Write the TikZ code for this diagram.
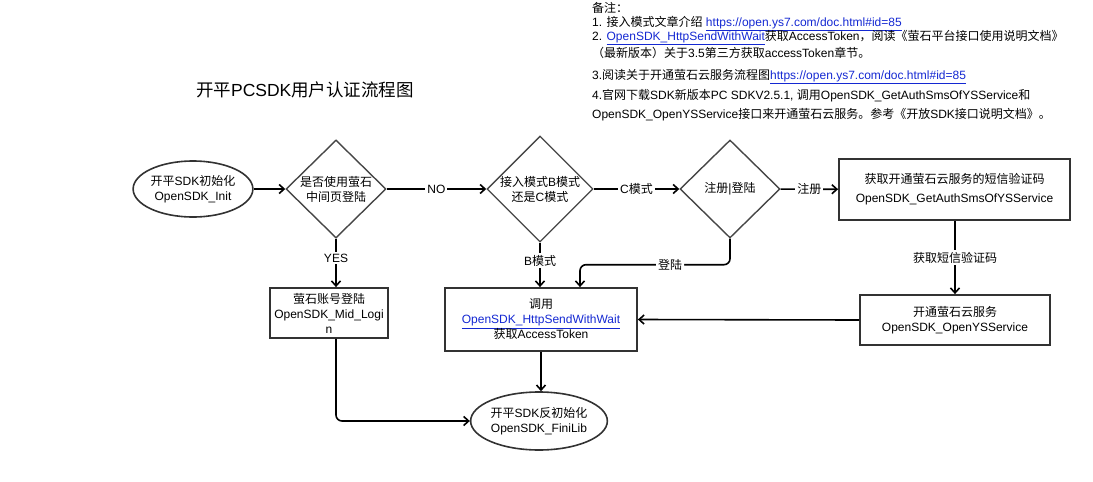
\documentclass[tikz,border=0pt]{standalone}
\usepackage{fontspec}
\setmainfont{Liberation Sans}
\newfontfamily\zhf{Noto Sans CJK SC}
\newcommand\zh[1]{{\zhf #1}}
\usetikzlibrary{shapes.geometric,arrows.meta,positioning,calc}
\definecolor{linkblue}{RGB}{20,40,210}
\definecolor{boxgray}{RGB}{50,50,50}
\definecolor{diagray}{RGB}{70,70,70}
\newcommand\lnk[1]{\textcolor{linkblue}{\underline{#1}}}
\begin{document}
\begin{tikzpicture}[x=1pt,y=-1pt,
  every node/.style={font=\fontsize{12}{15}\selectfont},
  term/.style={ellipse,draw=boxgray,line width=1.6pt,align=center,inner sep=0pt},
  dec/.style={diamond,draw=diagray,line width=1.4pt,align=center,inner sep=0pt,minimum width=100pt,minimum height=98pt},
  proc/.style={rectangle,draw=boxgray,line width=1.8pt,align=center,inner sep=0pt},
  arr/.style={draw=black,line width=1.6pt,-{Straight Barb[length=5pt,width=9pt,line width=1.6pt]}},
  ln/.style={draw=black,line width=1.6pt},
  lbl/.style={fill=white,inner sep=2pt},
  note/.style={anchor=base west,inner sep=0pt}]
\useasboundingbox (0,0) rectangle (1093,482);

% notes
\node[note] (n0) at (592,12) {\zh{备注：}};
\node[note] (n1) at (592,26) {1. \zh{接入模式文章介绍} \lnk{https://open.ys7.com/doc.html\#id=85}};
\node[note] (n2) at (592,40) {2. \lnk{OpenSDK\_HttpSendWithWait}\zh{获取}AccessToken\zh{，阅读《萤石平台接口使用说明文档》}};
\node[note] (n3) at (592,57) {\zh{（最新版本）关于}3.5\zh{第三方获取}accessToken\zh{章节。}};
\node[note] (n4) at (592,79) {3.\zh{阅读关于开通萤石云服务流程图}\lnk{https://open.ys7.com/doc.html\#id=85}};
\node[note] (n5) at (592,99) {4.\zh{官网下载}SDK\zh{新版本}PC SDKV2.5.1, \zh{调用}OpenSDK\_GetAuthSmsOfYSService\zh{和}};
\node[note] (n6) at (592,118) {OpenSDK\_OpenYSService\zh{接口来开通萤石云服务。参考《开放}SDK\zh{接口说明文档》。}};

% title
\node[font=\fontsize{17.5}{20}\selectfont,inner sep=0pt] (title) at (305,90) {\zh{开平}PCSDK\zh{用户认证流程图}};

% shapes
\node[term,minimum width=110pt,minimum height=56pt] (init) at (193,189) {\zh{开平}SDK\zh{初始化}\\OpenSDK\_Init};
\node[dec] (d1) at (336,189) {\zh{是否使用萤石}\\\zh{中间页登陆}};
\node[dec] (d2) at (540,189) {\zh{接入模式}B\zh{模式}\\\zh{还是}C\zh{模式}};
\node[dec] (d3) at (730,189) {\zh{注册}|\zh{登陆}};
\node[proc,minimum width=231pt,minimum height=61pt] (sms) at (954.5,189.5) {\zh{获取开通萤石云服务的短信验证码}\\[4pt]OpenSDK\_GetAuthSmsOfYSService};
\node[proc,minimum width=190pt,minimum height=50pt] (open) at (955,320) {\zh{开通萤石云服务}\\OpenSDK\_OpenYSService};
\node[proc,minimum width=192pt,minimum height=63pt] (tok) at (541,319.5) {\zh{调用}\\\lnk{OpenSDK\_HttpSendWithWait}\\\zh{获取}AccessToken};
\node[proc,minimum width=118pt,minimum height=50pt] (mid) at (329,313) {\zh{萤石账号登陆}\\OpenSDK\_Mid\_Logi\\n};
\node[term,minimum width=132pt,minimum height=58pt] (fini) at (539,421) {\zh{开平}SDK\zh{反初始化}\\OpenSDK\_FiniLib};

% connectors
\draw[arr] (init) -- (d1);
\draw[arr] (d1) -- node[lbl]{NO} (d2);
\draw[arr] (d2) -- node[lbl]{C\zh{模式}} (d3);
\draw[arr] (d3) -- node[lbl]{\zh{注册}} (sms);
\draw[arr] (d1.south) -- node[lbl,pos=0.4]{YES} (d1.south |- mid.north);
\draw[arr] (d2.south) -- node[lbl,pos=0.4]{B\zh{模式}} (d2.south |- tok.north);
\draw[arr,rounded corners=6pt] (d3.south) -- ++(0,26) -| node[lbl,pos=0.2]{\zh{登陆}} ([xshift=39pt]tok.north);
\draw[arr] (sms.south -| open.north) -- node[lbl]{\zh{获取短信验证码}} (open.north);
\draw[arr] (open.west) -- (tok.east);
\draw[arr] (tok.south) -- (tok.south |- fini.north);
\draw[arr,rounded corners=6pt] (d1.south |- mid.south) |- (fini.west);
\end{tikzpicture}
\end{document}
